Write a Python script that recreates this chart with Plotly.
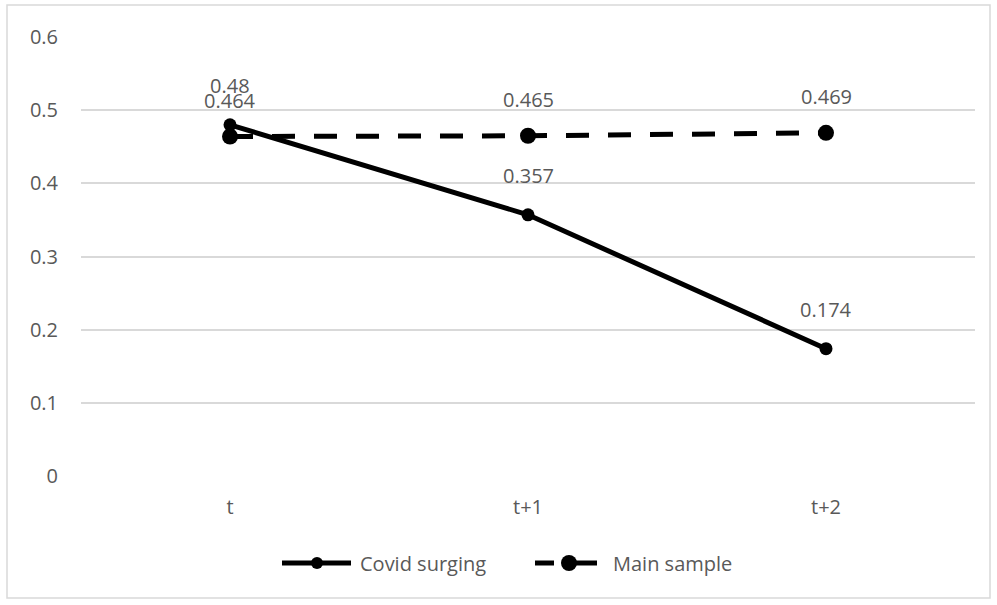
import plotly.graph_objects as go

categories = ["t", "t+1", "t+2"]
covid_surging = [0.48, 0.357, 0.174]
main_sample = [0.464, 0.465, 0.469]
covid_labels = ["0.48", "0.357", "0.174"]
main_labels = ["0.464", "0.465", "0.469"]
series_names = ["Covid surging", "Main sample"]
y_ticks = [0, 0.1, 0.2, 0.3, 0.4, 0.5, 0.6]
y_tick_text = ["0", "0.1", "0.2", "0.3", "0.4", "0.5", "0.6"]

FONT = "Open Sans"
GRAY = "#595959"
FS = 20
DASH = "23px,19px"

# plot-area pixel geometry (for converting legend pixel positions to paper coords)
L, R, T, B, W, H = 81, 22, 37, 129, 997, 605
PW, PH = W - L - R, H - T - B


def px(x):
    return (x - L) / PW


def py(y):
    return (H - B - y) / PH


fig = go.Figure()
fig.add_trace(go.Scatter(
    x=categories, y=covid_surging, name=series_names[0], mode="lines+markers",
    line=dict(color="black", width=5), marker=dict(color="black", size=13),
    showlegend=False,
))
fig.add_trace(go.Scatter(
    x=categories, y=main_sample, name=series_names[1], mode="lines+markers",
    line=dict(color="black", width=5, dash=DASH), marker=dict(color="black", size=16),
    showlegend=False,
))

for xs, ys, labs, shift in [(categories, covid_surging, covid_labels, 24),
                             (categories, main_sample, main_labels, 21)]:
    for x, y, t in zip(xs, ys, labs):
        fig.add_annotation(x=x, y=y, text=t, showarrow=False, yanchor="bottom",
                           yshift=shift, font=dict(family=FONT, size=FS, color=GRAY))

# chart border
fig.add_shape(type="rect", xref="paper", yref="paper",
              x0=px(7), x1=px(990), y0=py(598), y1=py(5),
              line=dict(color="#d9d9d9", width=1.5), fillcolor="rgba(0,0,0,0)", layer="below")

# custom legend (Excel-like long symbols)
ly = py(563)
# Covid surging: solid line with small marker
fig.add_shape(type="line", xref="paper", yref="paper", x0=px(282), x1=px(351), y0=ly, y1=ly,
              line=dict(color="black", width=5))
fig.add_shape(type="circle", xref="paper", yref="paper",
              x0=px(311), x1=px(323), y0=py(569), y1=py(557),
              line=dict(color="black", width=0), fillcolor="black")
fig.add_annotation(xref="paper", yref="paper", x=px(358), y=ly, text=series_names[0],
                   showarrow=False, xanchor="left", yanchor="middle",
                   font=dict(family=FONT, size=FS, color=GRAY))
# Main sample: dashed line with big marker
fig.add_shape(type="line", xref="paper", yref="paper", x0=px(535), x1=px(554), y0=ly, y1=ly,
              line=dict(color="black", width=5))
fig.add_shape(type="line", xref="paper", yref="paper", x0=px(570), x1=px(597), y0=ly, y1=ly,
              line=dict(color="black", width=5))
fig.add_shape(type="circle", xref="paper", yref="paper",
              x0=px(561), x1=px(577), y0=py(571), y1=py(555),
              line=dict(color="black", width=0), fillcolor="black")
fig.add_annotation(xref="paper", yref="paper", x=px(611), y=ly, text=series_names[1],
                   showarrow=False, xanchor="left", yanchor="middle",
                   font=dict(family=FONT, size=FS, color=GRAY))

fig.update_layout(
    width=W, height=H,
    margin=dict(l=L, r=R, t=T, b=B),
    paper_bgcolor="white", plot_bgcolor="white",
    font=dict(family=FONT, size=FS, color=GRAY),
    showlegend=False,
    xaxis=dict(type="category", range=[-0.5, 2.5], showgrid=False, zeroline=False,
               showline=False, ticks="", ticklabelstandoff=17,
               tickfont=dict(family=FONT, size=FS, color=GRAY)),
    yaxis=dict(range=[0, 0.6], tickvals=y_ticks, ticktext=y_tick_text,
               showgrid=True, gridcolor="#d9d9d9", gridwidth=1.5, zeroline=False,
               showline=False, ticks="", ticklabelstandoff=22,
               tickfont=dict(family=FONT, size=FS, color=GRAY)),
)

fig.write_html("out.html")
